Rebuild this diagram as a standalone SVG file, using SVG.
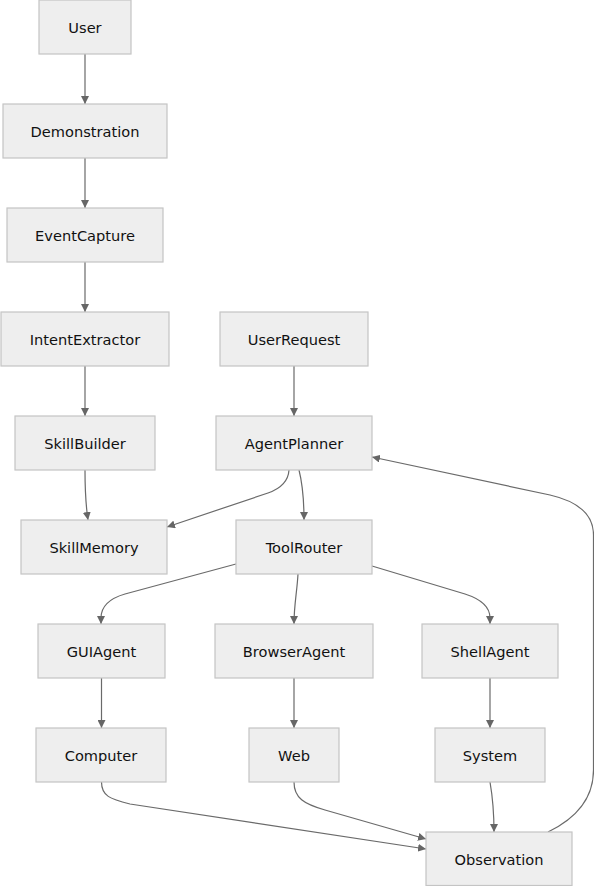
<svg xmlns="http://www.w3.org/2000/svg" width="594" height="886" viewBox="0 0 594 886">
<style>
.node rect{fill:#eeeeee;stroke:#c4c4c4;stroke-width:1.2}
.node text{font-family:"DejaVu Sans",sans-serif;font-size:14.6px;fill:#111;text-anchor:middle;dominant-baseline:central}
.edges path{fill:none;stroke:#6a6a6a;stroke-width:1.2;marker-end:url(#arr)}
</style>
<defs>
<marker id="arr" viewBox="0 0 10 10" refX="10" refY="5" markerWidth="8" markerHeight="8" markerUnits="userSpaceOnUse" orient="auto">
<path d="M0,0 L10,5 L0,10 z" fill="#666"/>
</marker>
</defs>
<rect width="594" height="886" fill="#ffffff"/>
<g class="edges">
<path d="M85,54 L85,104"/>
<path d="M85,158 L85,208"/>
<path d="M85,262 L85,312"/>
<path d="M85,366 L85,416"/>
<path d="M294,366 L294,416"/>
<path d="M85,470 Q85,500 88,520"/>
<path d="M289,470 Q288,486 268,493 L167,527"/>
<path d="M299,470 Q304,490 304,520"/>
<path d="M236,564 L125,594 Q101,601 101,618 L101,624"/>
<path d="M298,574 C297,592 294,605 294,624"/>
<path d="M372,566 L465,594 Q490,602 490,618 L490,624"/>
<path d="M101.5,678 L101.5,728"/>
<path d="M294,678 L294,728"/>
<path d="M490,678 L490,728"/>
<path d="M101.5,782 C101.5,796 110,799 130,804 L426,849"/>
<path d="M294,782 C294,798 304,804 325,810 L426,839"/>
<path d="M490,782 Q494,805 494,832"/>
<path d="M548,832 Q593.5,810 593.5,770 L593.5,535 Q593.5,505 550,495 L372,457"/>
</g>
<g id="User" class="node"><rect x="39" y="0" width="92" height="54"/><text x="85" y="27">User</text></g>
<g id="Demonstration" class="node"><rect x="3" y="104" width="164" height="54"/><text x="85" y="131">Demonstration</text></g>
<g id="EventCapture" class="node"><rect x="7" y="208" width="156" height="54"/><text x="85" y="235">EventCapture</text></g>
<g id="IntentExtractor" class="node"><rect x="1" y="312" width="168" height="54"/><text x="85" y="339">IntentExtractor</text></g>
<g id="UserRequest" class="node"><rect x="220" y="312" width="148" height="54"/><text x="294" y="339">UserRequest</text></g>
<g id="SkillBuilder" class="node"><rect x="15" y="416" width="140" height="54"/><text x="85" y="443">SkillBuilder</text></g>
<g id="AgentPlanner" class="node"><rect x="216" y="416" width="156" height="54"/><text x="294" y="443">AgentPlanner</text></g>
<g id="SkillMemory" class="node"><rect x="21" y="520" width="146" height="54"/><text x="94" y="547">SkillMemory</text></g>
<g id="ToolRouter" class="node"><rect x="236" y="520" width="136" height="54"/><text x="304" y="547">ToolRouter</text></g>
<g id="GUIAgent" class="node"><rect x="38" y="624" width="127" height="54"/><text x="101.5" y="651">GUIAgent</text></g>
<g id="BrowserAgent" class="node"><rect x="215" y="624" width="158" height="54"/><text x="294" y="651">BrowserAgent</text></g>
<g id="ShellAgent" class="node"><rect x="422" y="624" width="136" height="54"/><text x="490" y="651">ShellAgent</text></g>
<g id="Computer" class="node"><rect x="36" y="728" width="130" height="54"/><text x="101" y="755">Computer</text></g>
<g id="Web" class="node"><rect x="249" y="728" width="90" height="54"/><text x="294" y="755">Web</text></g>
<g id="System" class="node"><rect x="435" y="728" width="110" height="54"/><text x="490" y="755">System</text></g>
<g id="Observation" class="node"><rect x="426" y="832" width="146" height="53.5"/><text x="499" y="859">Observation</text></g>
</svg>
